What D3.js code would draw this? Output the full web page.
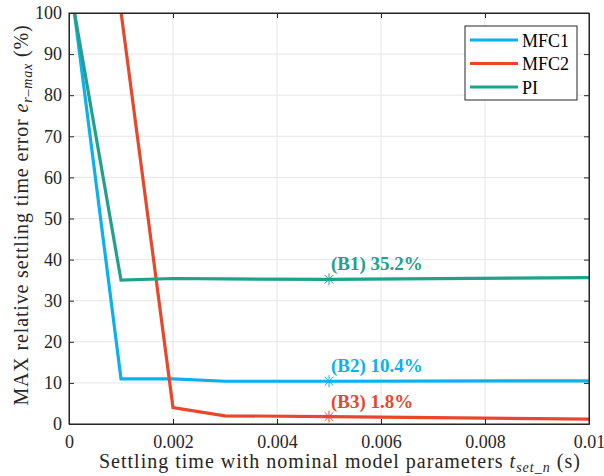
<!DOCTYPE html>
<html>
<head>
<meta charset="utf-8">
<script src="https://cdn.jsdelivr.net/npm/d3@7"></script>
<style>
  body { margin: 0; background: #fff; }
  svg text { font-family: "Liberation Serif", "DejaVu Serif", serif; }
  .grid line { stroke: #e6e6e6; stroke-width: 1; }
  .axis path, .axis line { stroke: #262626; }
  .axis text { fill: #262626; font-size: 18px; font-family: "Liberation Serif", serif; }
</style>
</head>
<body>
<svg id="chart" width="604" height="476"></svg>
<script>
const xTicks = [0, 0.002, 0.004, 0.006, 0.008, 0.01];
const yTicks = [0, 10, 20, 30, 40, 50, 60, 70, 80, 90, 100];

const mfc1X = [0.0001, 0.001, 0.002, 0.003, 0.005, 0.01];
const mfc1Y = [100.5, 11, 11, 10.4, 10.4, 10.5];
const mfc2X = [0.001, 0.002, 0.003, 0.005, 0.01];
const mfc2Y = [100.3, 4, 2, 1.8, 1.2];
const piX = [0.0001, 0.001, 0.002, 0.003, 0.005, 0.01];
const piY = [100.5, 35, 35.4, 35.3, 35.2, 35.6];

const seriesNames = ['MFC1', 'MFC2', 'PI'];
const seriesColors = ['#0ab1ee', '#e8472b', '#21a08c'];

const markX = 0.005;
const markY = [10.4, 1.8, 35.2];
const markLabels = ['(B2) 10.4%', '(B3) 1.8%', '(B1) 35.2%'];

const margin = { top: 13, right: 15, bottom: 52, left: 69 };
const width = 604, height = 476;
const innerW = width - margin.left - margin.right;
const innerH = height - margin.top - margin.bottom;

const svg = d3.select('#chart');
const g = svg.append('g').attr('transform', `translate(${margin.left},${margin.top})`);

const x = d3.scaleLinear().domain([0, 0.01]).range([0, innerW]);
const y = d3.scaleLinear().domain([0, 100]).range([innerH, 0]);

// grid
g.append('g').attr('class', 'grid')
  .selectAll('line').data(xTicks).join('line')
  .attr('x1', d => x(d)).attr('x2', d => x(d)).attr('y1', 0).attr('y2', innerH);
g.append('g').attr('class', 'grid')
  .selectAll('line').data(yTicks).join('line')
  .attr('y1', d => y(d)).attr('y2', d => y(d)).attr('x1', 0).attr('x2', innerW);

g.append('clipPath').attr('id', 'clip')
  .append('rect').attr('width', innerW).attr('height', innerH);

const series = [
  mfc1X.map((d, i) => [d, mfc1Y[i]]),
  mfc2X.map((d, i) => [d, mfc2Y[i]]),
  piX.map((d, i) => [d, piY[i]])
];

const line = d3.line().x(d => x(d[0])).y(d => y(d[1]));

g.append('g').attr('clip-path', 'url(#clip)')
  .selectAll('path').data(series).join('path')
  .attr('d', line)
  .attr('fill', 'none')
  .attr('stroke', (d, i) => seriesColors[i])
  .attr('stroke-width', 3.2);

// asterisk markers + labels
markY.forEach((v, i) => {
  const mx = x(markX), my = y(v);
  const s = 6, d = 4.3;
  const m = g.append('g').attr('stroke', seriesColors[i]).attr('stroke-width', 1);
  [[0, -s, 0, s], [-s, 0, s, 0], [-d, -d, d, d], [-d, d, d, -d]]
    .forEach(c => m.append('line')
      .attr('x1', mx + c[0]).attr('y1', my + c[1]).attr('x2', mx + c[2]).attr('y2', my + c[3]));
  g.append('text')
    .attr('x', mx + 2).attr('y', my - 9)
    .attr('fill', seriesColors[i])
    .attr('font-weight', 'bold')
    .attr('font-size', 19)
    .text(markLabels[i]);
});

// axes
const xAxis = d3.axisBottom(x).tickValues(xTicks).tickSizeInner(-5).tickSizeOuter(0).tickPadding(11)
  .tickFormat(d => d === 0 ? '0' : String(+d.toFixed(3)));
const yAxis = d3.axisLeft(y).tickValues(yTicks).tickSizeInner(-5).tickSizeOuter(0).tickPadding(7);

g.append('g').attr('class', 'axis').attr('transform', `translate(0,${innerH})`).call(xAxis)
  .attr('font-family', null).attr('font-size', null);
g.append('g').attr('class', 'axis').call(yAxis)
  .attr('font-family', null).attr('font-size', null);
g.append('g').attr('class', 'axis')
  .call(d3.axisTop(x).tickValues(xTicks).tickSizeInner(-5).tickSizeOuter(0).tickFormat(''));
g.append('g').attr('class', 'axis').attr('transform', `translate(${innerW},0)`)
  .call(d3.axisRight(y).tickValues(yTicks).tickSizeInner(-5).tickSizeOuter(0).tickFormat(''));

g.append('rect').attr('width', innerW).attr('height', innerH)
  .attr('fill', 'none').attr('stroke', '#262626').attr('stroke-width', 1);

// legend
const leg = g.append('g').attr('transform', `translate(${innerW - 124},13)`);
leg.append('rect').attr('width', 112).attr('height', 74)
  .attr('fill', '#fff').attr('stroke', '#262626').attr('stroke-width', 1);
seriesNames.forEach((n, i) => {
  const ly = 14 + i * 23.5;
  leg.append('line').attr('x1', 5).attr('x2', 53).attr('y1', ly).attr('y2', ly)
    .attr('stroke', seriesColors[i]).attr('stroke-width', 3.2);
  leg.append('text').attr('x', 57).attr('y', ly + 6.5).attr('font-size', 18).attr('fill', '#000').text(n);
});

// axis labels
const xl = svg.append('text')
  .attr('x', 99).attr('y', 468)
  .attr('font-size', 20).attr('letter-spacing', 1).attr('fill', '#262626');
xl.append('tspan').text('Settling time with nominal model parameters ');
xl.append('tspan').attr('font-style', 'italic').text('t');
xl.append('tspan').attr('font-style', 'italic').attr('font-size', 14).attr('dy', 4).text('set_n');
xl.append('tspan').attr('dy', -4).text(' (s)');

const yl = svg.append('text')
  .attr('transform', `translate(28,${215}) rotate(-90)`)
  .attr('text-anchor', 'middle').attr('font-size', 20).attr('letter-spacing', 0.85).attr('fill', '#262626');
yl.append('tspan').text('MAX relative settling time error ');
yl.append('tspan').attr('font-style', 'italic').text('e');
yl.append('tspan').attr('font-style', 'italic').attr('font-size', 14).attr('dy', 4).text('r–max');
yl.append('tspan').attr('dy', -4).text(' (%)');
</script>
</body>
</html>
